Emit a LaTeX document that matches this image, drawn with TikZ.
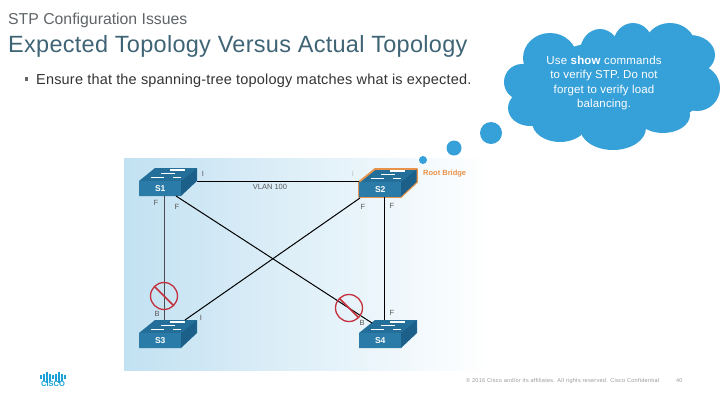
\documentclass[tikz,border=0pt]{standalone}
\usepackage{fontspec}
\setmainfont{Liberation Sans}
\definecolor{cloudblue}{HTML}{36A0D8}
\definecolor{titleblue}{HTML}{3F6475}
\definecolor{subgrey}{HTML}{5F6468}
\definecolor{panelblue}{HTML}{C2E1F2}
\definecolor{faceblue}{HTML}{2A7BA8}
\definecolor{topblue}{HTML}{246F9A}
\definecolor{sideblue}{HTML}{1C5F88}
\definecolor{rootorange}{HTML}{E8924A}
\definecolor{stopred}{HTML}{C4303C}
\definecolor{logoblue}{HTML}{1BA0D7}
\tikzset{
    port/.style={font=\fontsize{7.5}{8}\selectfont, text=black!65, inner sep=0pt},
    wire/.style={black, line width=1pt},
    stopsign/.style={draw=stopred, line width=1.3pt, fill=none},
    pics/switch/.style 2 args={code={
        \fill[topblue, draw=#2, line width=1.8pt, line join=round] (0,-15) -- (16,-28) -- (58,-28) -- (58,-15) -- (42,0) -- (0,0) -- cycle;
        \fill[sideblue] (42,-14.5) -- (57.5,-27.5) -- (57.5,-15) -- (42,-.5) -- cycle;
        \node[fill=faceblue, minimum width=42, minimum height=14.5, inner sep=0pt, anchor=south west,
            font=\bfseries\fontsize{8.5}{9}\selectfont, text=white] (-face) at (0,0) {#1};
        \draw[white, line width=1.2pt] (12,-18.5) -- (25,-18.5) (22,-22.5) -- (36,-22.5) (31,-26) -- (46,-26) (34,-18.5) -- (42,-18.5);
        \coordinate (-b) at (25.5,0);
        \coordinate (-bl) at (1,1);
        \coordinate (-br) at (37,0);
        \coordinate (-t) at (25.5,-28);
        \coordinate (-tl) at (13,-25);
        \coordinate (-tr) at (46,-28);
        \coordinate (-w) at (0,-16);
        \coordinate (-e) at (58,-15);
    }},
}
\begin{document}
\begin{tikzpicture}[x=1pt, y=-1pt]
    \useasboundingbox (0,0) rectangle (720,405);
    \node[anchor=base west, inner sep=0pt, text=subgrey, font=\fontsize{15.8}{18}\selectfont] (subtitle) at (8,24) {STP Configuration Issues};
    \node[anchor=base west, inner sep=0pt, text=titleblue, font=\fontsize{23.5}{26}\selectfont\addfontfeatures{LetterSpace=1.2}] (title) at (8,52) {Expected Topology Versus Actual Topology};
    \fill[black!60] (24.5,77) rectangle (28,80.5);
    \node[anchor=base west, inner sep=0pt, text=black!80, font=\fontsize{14.5}{16}\selectfont\addfontfeatures{LetterSpace=1.3}] (bullet) at (36,84) {Ensure that the spanning-tree topology matches what is expected.};

    \shade[left color=panelblue, right color=white] (124,158) rectangle (490,370);

    \pic (s1) at (139,196) {switch={S1}{none}};
    \pic (s2) at (359,197) {switch={S2}{rootorange}};
    \pic (s3) at (139,348) {switch={S3}{none}};
    \pic (s4) at (359,348) {switch={S4}{none}};

    \draw[wire] (s1-e) -- (s2-w);
    \draw[wire, black!70] (s1-b) -- (s3-t);
    \draw[wire] (s2-b) -- (s4-t);
    \draw[wire] (s1-br) -- (s4-tl);
    \draw[wire] (s2-bl) -- (s3-tr);

    \node[port] (s1i) at (203,174) {I};
    \node[port] (vlan) at (270,187) {VLAN 100};
    \node[port] (s1f) at (156,203) {F};
    \node[port] (s1g) at (177,207) {F};
    \node[port, text=black!25] (s2i) at (353,174) {I};
    \node[port] (s2f) at (363,207) {F};
    \node[port] (s2g) at (392,206) {F};
    \node[port] (s3b) at (157,314) {B};
    \node[port] (s3i) at (201,318) {I};
    \node[port] (s4b) at (362,323) {B};
    \node[port] (s4f) at (392,313) {F};
    \node[anchor=west, inner sep=0pt, text=rootorange, font=\bfseries\fontsize{7.5}{8}\selectfont] (root) at (423,174) {Root Bridge};

    \draw[stopsign] (164,296) circle (13.5);
    \draw[stopred, line width=1.5pt] (154.5,286.5) -- (173.5,305.5);
    \draw[stopsign] (349,308) circle (13.5);
    \draw[stopred, line width=1.5pt] (339.5,298.5) -- (358.5,317.5);

    \foreach \cx/\cy/\rx/\ry in {423/160/4/4, 454/148/7.5/7.5, 491/133/11/11,
            550/58/27/25, 522/82/18/18, 530/108/22/18, 560/122/28/20, 613/128/33/22,
            663/115/27/18, 697/88/23/23, 690/55/25/20, 670/45/25/22, 633/45/20/22, 600/52/20/23, 620/85/88/45}
        \fill[cloudblue] (\cx,\cy) ellipse ({\rx} and {\ry});
    \node[align=center, inner sep=0pt, text=white, font=\fontsize{11.5}{14.4}\selectfont\addfontfeatures{LetterSpace=1.5}] (note) at (604,83)
        {Use \textbf{show} commands\\to verify STP. Do not\\forget to verify load\\balancing.};

    \foreach \bx/\bh in {41/2, 44/3.5, 47/5.5, 50/3.5, 53/2, 56/3.5, 59/5.5, 62/3.5, 65/2}
        \draw[logoblue, line width=1.5pt] (\bx,377-\bh) -- (\bx,377+\bh);
    \node[inner sep=0pt, text=logoblue, font=\bfseries\fontsize{7.5}{8}\selectfont] (logo) at (53,384) {CISCO};

    \node[anchor=base west, inner sep=0pt, text=black!40, font=\fontsize{5.6}{6}\selectfont\addfontfeatures{LetterSpace=4.3}] (footer) at (466,382) {© 2016 Cisco and/or its affiliates. All rights reserved. Cisco Confidential};
    \node[anchor=base west, inner sep=0pt, text=black!40, font=\fontsize{5.6}{6}\selectfont] (page) at (676,382) {40};
\end{tikzpicture}
\end{document}
